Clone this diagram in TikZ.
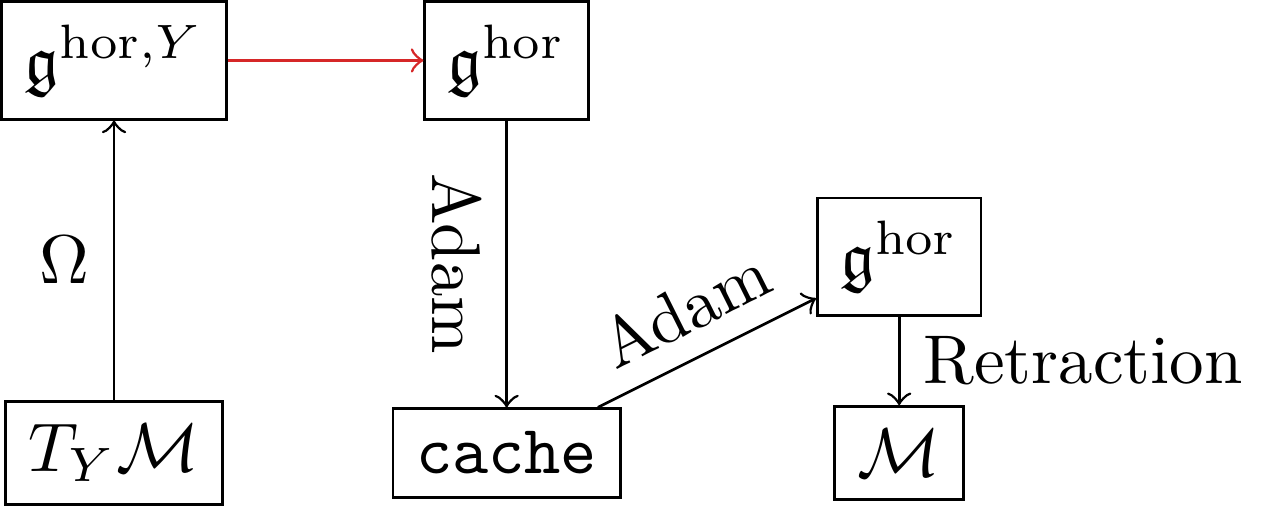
\documentclass[tikz,border=0pt]{standalone}
\usepackage{amsmath}
\usepackage{amsfonts}
\usepackage{tikz}
\usepackage{xcolor}
\usetikzlibrary{arrows}
\definecolor{flowred}{HTML}{D62728}

\begin{document}
\begin{tikzpicture}
\tikzstyle{box}=[draw=black,rectangle]
\useasboundingbox (-0.581,-0.280) rectangle (5.884,2.308);
\node [box] (gY) at (0,2) {$\mathfrak{g}^{\mathrm{hor},Y}$};
\node [box] (ghor) at (2,2) {$\mathfrak{g}^{\mathrm{hor}}$};
\node [box] (TYM) at (0,0) {$T_Y\mathcal{M}$};
\node [box] (cache) at (2,0) {\texttt{cache}};
\node [box] (ghorr) at (4,1) {$\mathfrak{g}^{\mathrm{hor}}$};
\node [box] (M) at (4,0) {$\mathcal{M}$};
\draw [black,->] (TYM) -- (gY) node [midway,left] {$\Omega$};
\draw [flowred,->] (gY) -- (ghor);
\draw [black,->] (ghor) -- (cache) node [midway,anchor=north,rotate=-90] {Adam};
\draw [black,->] (cache) -- (ghorr) node [midway,above,sloped] {Adam};
\draw [black,->] (ghorr) -- (M) node [midway,right] {Retraction};
\end{tikzpicture}
\end{document}
